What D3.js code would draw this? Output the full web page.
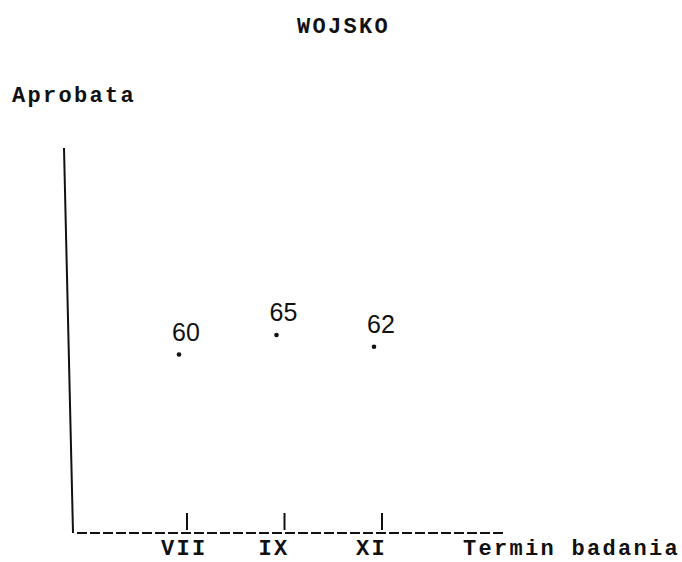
<!DOCTYPE html>
<html>
<head>
<meta charset="utf-8">
<script src="https://cdn.jsdelivr.net/npm/d3@7"></script>
<style>
  body { margin: 0; background: #fff; }
  svg { display: block; }
  .tw { font-family: "Liberation Mono", "DejaVu Sans Mono", monospace; font-size: 22px; font-weight: bold; fill: #111; letter-spacing: 2.3px; }
  .val { font-family: "Liberation Sans", Arial, sans-serif; font-size: 25px; fill: #111; }
</style>
</head>
<body>
<div id="chart"></div>
<script>
var terms = ["VII", "IX", "XI"];
var approval = [60, 65, 62];
var title = "WOJSKO";
var yTitle = "Aprobata";
var xTitle = "Termin badania";

var width = 682,
    height = 562;

var svg = d3.select("#chart").append("svg")
    .attr("width", width)
    .attr("height", height);

var x = d3.scalePoint()
    .domain(terms)
    .range([187, 382]);

var y = d3.scaleLinear()
    .domain([60, 65])
    .range([354.5, 335]);

var baseY = 533;
var labY = 555;

// titles
svg.append("text").attr("class", "tw").attr("x", 297).attr("y", 33).text(title);
svg.append("text").attr("class", "tw").attr("x", 12).attr("y", 102).text(yTitle);
svg.append("text").attr("class", "tw").attr("x", 463).attr("y", labY).text(xTitle);

// vertical axis (typed by hand, slightly slanted)
svg.append("path")
    .attr("d", d3.line()([[64, 148], [73, baseY]]))
    .attr("stroke", "#111")
    .attr("stroke-width", 2)
    .attr("fill", "none");

// dashed baseline
svg.append("line")
    .attr("x1", 77).attr("x2", 505)
    .attr("y1", baseY).attr("y2", baseY)
    .attr("stroke", "#111")
    .attr("stroke-width", 2)
    .attr("stroke-dasharray", "10,3");

// tick marks
svg.selectAll(".tick")
    .data(terms).enter()
    .append("line")
    .attr("class", "tick")
    .attr("x1", function(d) { return x(d); })
    .attr("x2", function(d) { return x(d); })
    .attr("y1", baseY - 20)
    .attr("y2", baseY - 3)
    .attr("stroke", "#111")
    .attr("stroke-width", 2);

// tick labels
svg.selectAll(".lab")
    .data(terms).enter()
    .append("text")
    .attr("class", "tw")
    .attr("x", function(d) { return x(d) - 26; })
    .attr("y", labY)
    .text(function(d) { return d; });

// points
var pts = terms.map(function(t, i) { return {term: t, v: approval[i]}; });

svg.selectAll(".dot")
    .data(pts).enter()
    .append("circle")
    .attr("class", "dot")
    .attr("cx", function(d) { return x(d.term) - 8; })
    .attr("cy", function(d) { return y(d.v); })
    .attr("r", 2.3)
    .attr("fill", "#111");

svg.selectAll(".val")
    .data(pts).enter()
    .append("text")
    .attr("class", "val")
    .attr("x", function(d) { return x(d.term) - 15; })
    .attr("y", function(d) { return y(d.v) - 14; })
    .text(function(d) { return d.v; });
</script>
</body>
</html>
